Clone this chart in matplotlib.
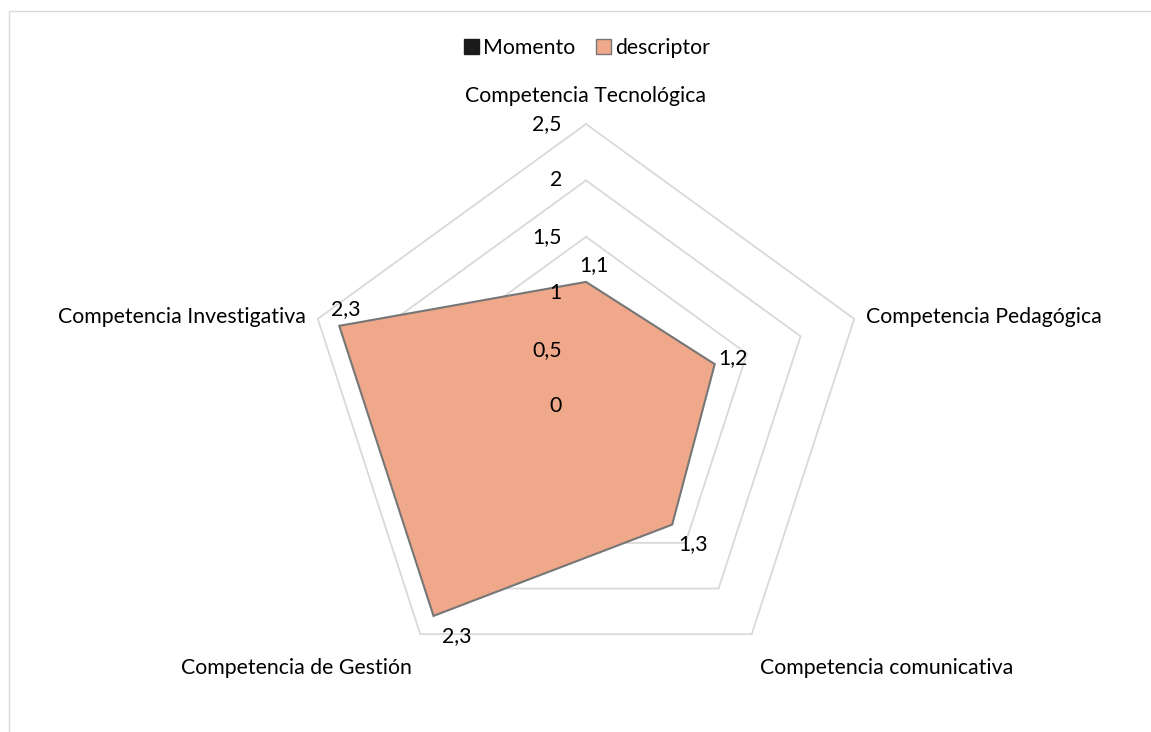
import numpy as np
import matplotlib
matplotlib.use("Agg")
import matplotlib.pyplot as plt
from matplotlib.patches import Patch, Rectangle

# data
categories = [
    "Competencia Tecnológica",
    "Competencia Pedagógica",
    "Competencia comunicativa",
    "Competencia de Gestión",
    "Competencia Investigativa",
]
descriptor = [1.1, 1.2, 1.3, 2.3, 2.3]
ring_values = [0.5, 1.0, 1.5, 2.0, 2.5]
ring_labels = ["0", "0,5", "1", "1,5", "2", "2,5"]
legend_labels = ["Momento", "descriptor"]

plt.rcParams["font.family"] = ["Lato", "DejaVu Sans"]

W, H = 1151, 732
fig = plt.figure(figsize=(W / 100, H / 100), dpi=100)
ax = fig.add_axes([0, 0, 1, 1])

# pixels per value unit, centre of the web in pixels
ppu = 112.8
cx, cy = 586, 406
ax.set_xlim(-cx / ppu, (W - cx) / ppu)
ax.set_ylim(-(H - cy) / ppu, cy / ppu)
ax.axis("off")

n = len(categories)
angles = np.pi / 2 - np.arange(n) * 2 * np.pi / n
ux, uy = np.cos(angles), np.sin(angles)

# pentagon grid
for r in ring_values:
    xs = np.append(ux * r, ux[0] * r)
    ys = np.append(uy * r, uy[0] * r)
    ax.plot(xs, ys, color="#d9d9d9", lw=1.3, zorder=1)

# series
vals = np.array(descriptor)
ax.fill(ux * vals, uy * vals, facecolor="#f0a88a", edgecolor="#767676",
        lw=1.5, zorder=2)

fs = 15.3
# radial tick labels
for i, lab in enumerate(ring_labels):
    r = i * 0.5
    ax.text(-24 / ppu, r, lab, ha="right", va="center", fontsize=fs,
            color="#000000", zorder=3)

# data labels (offsets in pixels)
offsets = [(8, 17), (4, 6), (6, -19), (8, -20), (-8, 17)]
aligns = [("center", "center"), ("left", "center"), ("left", "center"),
          ("left", "center"), ("left", "center")]
for i, v in enumerate(descriptor):
    dx, dy = offsets[i]
    ax.text(ux[i] * v + dx / ppu, uy[i] * v + dy / ppu,
            f"{v:.1f}".replace(".", ","), ha=aligns[i][0], va=aligns[i][1],
            fontsize=fs, zorder=3)

# category labels
R = ring_values[-1]
cat_pos = [(0, 28, "center"), (12, 2, "left"), (8, -34, "left"),
           (-8, -34, "right"), (-12, 2, "right")]
for i, name in enumerate(categories):
    dx, dy, ha = cat_pos[i]
    ax.text(ux[i] * R + dx / ppu, uy[i] * R + dy / ppu, name, ha=ha,
            va="center", fontsize=fs)

# legend
handles = [
    Patch(facecolor="#1a1a1a", edgecolor="#1a1a1a"),
    Patch(facecolor="#f0a88a", edgecolor="#767676"),
]
fig.legend(handles, legend_labels, loc="center", bbox_to_anchor=(587 / W, 1 - 48 / H),
           ncol=2, frameon=False, fontsize=fs, handlelength=0.7, handleheight=0.7,
           handletextpad=0.2, columnspacing=1.0)

# chart border
fig.patches.append(Rectangle((9 / W, -0.1), 1.2, 1 - 11 / H + 0.1,
                             transform=fig.transFigure, fill=False,
                             edgecolor="#d9d9d9", lw=1.0))

fig.savefig("out.png", dpi=100, facecolor="white")
